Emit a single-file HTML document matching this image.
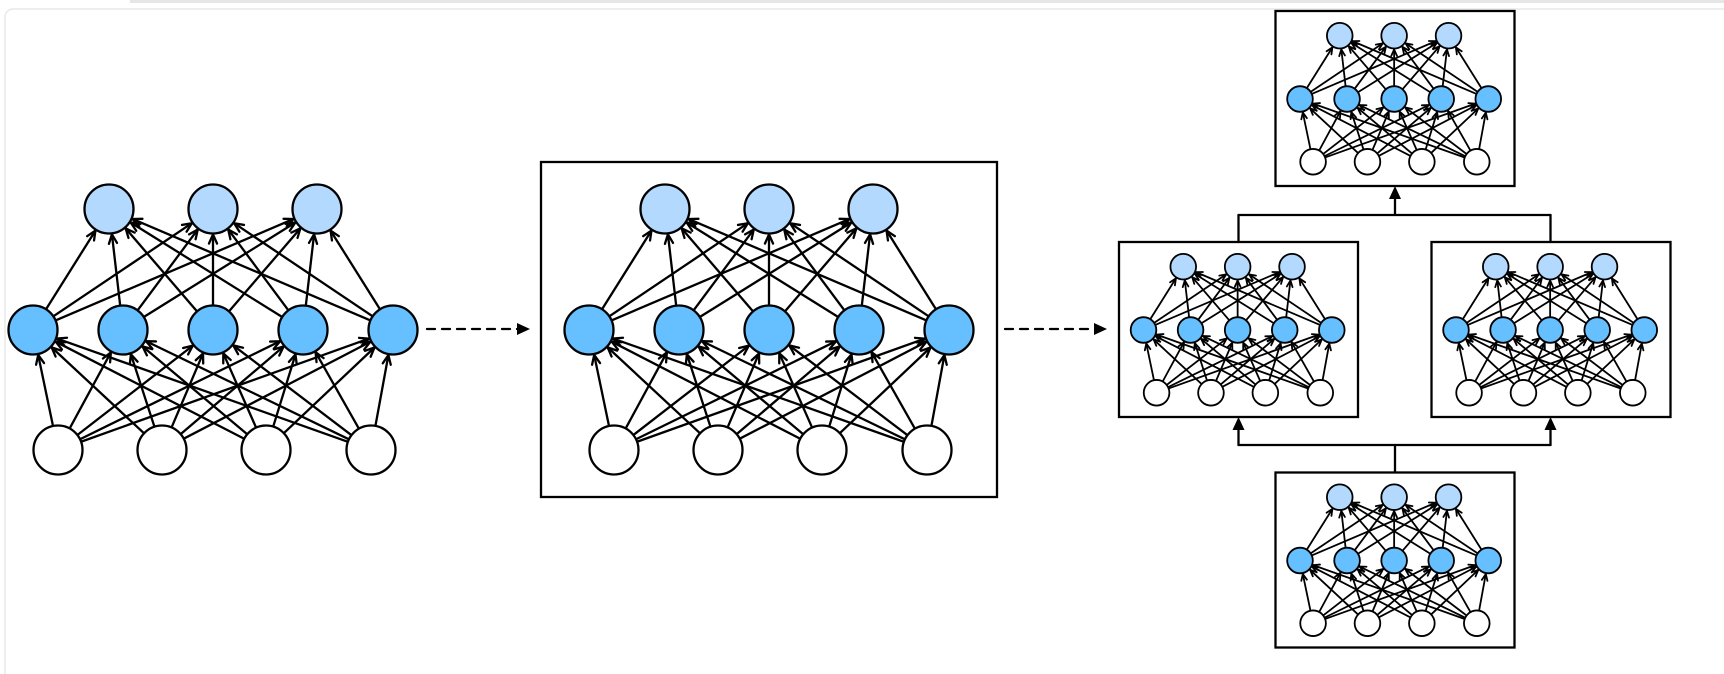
<!DOCTYPE html>
<html><head><meta charset="utf-8"><style>
html,body{margin:0;padding:0;background:#fff;width:1724px;height:674px;overflow:hidden}
</style></head><body>
<svg id="s" width="1724" height="674" viewBox="0 0 1724 674" xmlns="http://www.w3.org/2000/svg">
<rect x="0" y="0" width="1724" height="674" fill="#fff"/>
<line x1="130" y1="1.5" x2="1724" y2="1.5" stroke="#e6e6e6" stroke-width="3"/>
<rect x="5" y="9" width="1730" height="680" rx="8" fill="none" stroke="#e8e8e8" stroke-width="1.5"/>
<g id="g" stroke="#000" fill="none" stroke-linecap="round"></g>
</svg>
<script>
var g=document.getElementById('g');var NS='http://www.w3.org/2000/svg';
function el(t,a){var e=document.createElementNS(NS,t);for(var k in a)e.setAttribute(k,a[k]);g.appendChild(e);return e;}
function line(x1,y1,x2,y2,w){el('line',{x1:x1,y1:y1,x2:x2,y2:y2,'stroke-width':w});}
function head(x,y,dx,dy,L,w){var a=0.42;var ang=Math.atan2(dy,dx);
 for(var s=-1;s<=1;s+=2){var b=ang+Math.PI+s*a;line(x,y,x+L*Math.cos(b),y+L*Math.sin(b),w);}}
function net(ox,oy,k){
 var r=24.5*k,w=k<1?1.8:2.3,L=k<1?7:10;
 var top=[109,213,317].map(function(x){return[ox+(x-33)*k,oy+(209-330)*k]});
 var mid=[33,123,213,303,393].map(function(x){return[ox+(x-33)*k,oy]});
 var bot=[58,162,266,371].map(function(x){return[ox+(x-33)*k,oy+(450-330)*k]});
 function edges(A,B){A.forEach(function(p){B.forEach(function(q){
  var dx=q[0]-p[0],dy=q[1]-p[1],d=Math.sqrt(dx*dx+dy*dy),ux=dx/d,uy=dy/d;
  var x1=p[0]+ux*r,y1=p[1]+uy*r,x2=q[0]-ux*(r+1),y2=q[1]-uy*(r+1);
  line(x1,y1,x2,y2,w);head(x2,y2,ux,uy,L,w);});});}
 edges(bot,mid);edges(mid,top);
 top.forEach(function(p){el('circle',{cx:p[0],cy:p[1],r:r,fill:'#b3d9ff','stroke-width':w});});
 mid.forEach(function(p){el('circle',{cx:p[0],cy:p[1],r:r,fill:'#66bfff','stroke-width':w});});
 bot.forEach(function(p){el('circle',{cx:p[0],cy:p[1],r:r,fill:'#fff','stroke-width':w});});
}
function box(x,y,w,h){el('rect',{x:x,y:y,width:w,height:h,'stroke-width':2.3,fill:'none'});}
function tri(x,y,dir){ // filled arrowhead, tip at x,y
 var p;if(dir=='r')p=[[x,y],[x-13,y-6],[x-13,y+6]];else p=[[x,y],[x-6,y+13],[x+6,y+13]];
 el('polygon',{points:p.map(function(a){return a.join(',')}).join(' '),fill:'#000',stroke:'none'});}
// left net
net(33,330,1);
el('line',{x1:427,y1:329,x2:518,y2:329,'stroke-width':2.3,'stroke-dasharray':'8,7'});tri(530,329,'r');
box(541,162,456,335);
net(589,330,1);
el('line',{x1:1005,y1:329,x2:1095,y2:329,'stroke-width':2.3,'stroke-dasharray':'8,7'});tri(1107,329,'r');
var k=0.523;
function small(bx,by){box(bx,by,239,175);net(bx+24.5,by+88,k);}
small(1275.5,11);small(1119,242);small(1431.5,242);small(1275.5,472.5);
// connectors
line(1238.5,242,1238.5,215,2.3);line(1550.5,242,1550.5,215,2.3);line(1238.5,215,1550.5,215,2.3);
line(1395,215,1395,198,2.3);tri(1395,186,'u');
line(1395,472.5,1395,445,2.3);line(1238.5,445,1550.5,445,2.3);
line(1238.5,445,1238.5,429,2.3);tri(1238.5,417,'u');
line(1550.5,445,1550.5,429,2.3);tri(1550.5,417,'u');
</script>
</body></html>
